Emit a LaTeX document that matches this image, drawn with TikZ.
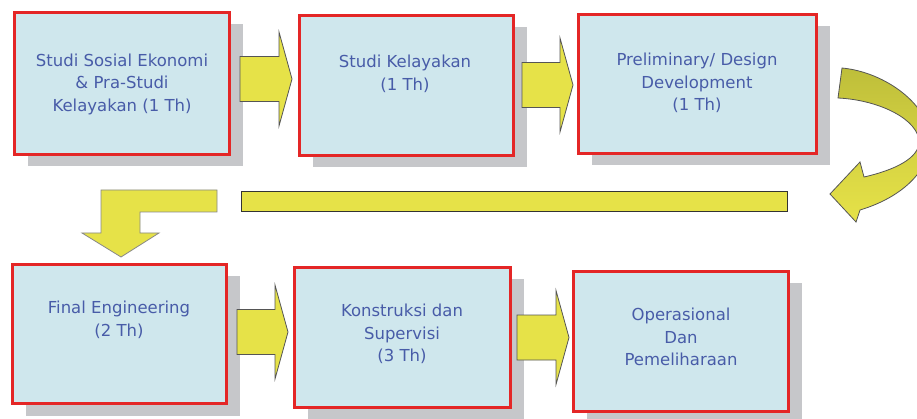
\documentclass[tikz,border=0pt]{standalone}
\usepackage{fontspec}
\setmainfont{DejaVu Sans}
\usetikzlibrary{shadows}
\definecolor{boxfill}{RGB}{207,231,237}
\definecolor{boxred}{RGB}{228,38,38}
\definecolor{shadowgray}{RGB}{198,199,202}
\definecolor{txtblue}{RGB}{72,92,168}
\definecolor{arrowyellow}{RGB}{230,226,72}
\definecolor{arrowolive}{RGB}{190,190,58}
\definecolor{arrowedge}{RGB}{85,85,85}
\tikzset{
  stagebox/.style={draw=boxred, line width=3pt, fill=boxfill, inner sep=0pt,
    drop shadow={shadow xshift=13pt, shadow yshift=-12pt, fill=shadowgray, opacity=1}},
  stagetext/.style={text=txtblue, align=center, inner sep=0pt,
    font=\fontsize{16.5}{22.5}\selectfont},
  blockarrow/.style={fill=arrowyellow, draw=arrowedge, line width=0.8pt, line join=miter},
}
\newcommand\blockarrowshape[4]{% name, shaft start x, center y, tip x
  \coordinate (#1) at (#2,#3);
  \path[blockarrow] (#1) ++(0,-22.5) -- ++({#4-#2-13},0) -- ++(0,-24.5)
    -- (#4,#3) -- ({#4-13},{#3+47}) -- ++(0,-24.5) -- ({#2},{#3+22.5}) -- cycle;
}
\begin{document}
\begin{tikzpicture}[x=1pt,y=-1pt]
\useasboundingbox (0,0) rectangle (917,419);
\clip (0,0) rectangle (917,419);
\fill[white] (0,0) rectangle (917,419);

% boxes
\node[stagebox, minimum width=215pt, minimum height=142pt] (b1) at (122,83.5) {};
\node[stagebox, minimum width=214pt, minimum height=140pt] (b2) at (406.5,85.5) {};
\node[stagebox, minimum width=238pt, minimum height=139pt] (b3) at (697.5,84) {};
\node[stagebox, minimum width=214pt, minimum height=139pt] (b4) at (119.5,334) {};
\node[stagebox, minimum width=216pt, minimum height=140pt] (b5) at (402.5,337.5) {};
\node[stagebox, minimum width=215pt, minimum height=140pt] (b6) at (681,341.5) {};

% texts
\node[stagetext] (t1) at (122,84) {Studi Sosial Ekonomi\\ \& Pra-Studi\\ Kelayakan (1 Th)};
\node[stagetext] (t2) at (405,74) {Studi Kelayakan\\ (1 Th)};
\node[stagetext] (t3) at (697,83) {Preliminary/ Design\\ Development\\ (1 Th)};
\node[stagetext] (t4) at (119,320) {Final Engineering\\ (2 Th)};
\node[stagetext] (t5) at (402,334) {Konstruksi dan\\ Supervisi\\ (3 Th)};
\node[stagetext] (t6) at (681,337) {Operasional\\ Dan\\ Pemeliharaan};

% straight block arrows
\blockarrowshape{a1}{240}{79}{292}
\blockarrowshape{a2}{522}{85}{573}
\blockarrowshape{a3}{237}{332}{288}
\blockarrowshape{a4}{517}{337.5}{569}

% long bar
\node[draw=black!80, line width=1.2pt, fill=arrowyellow, inner sep=0pt,
  minimum width=546pt, minimum height=20pt] (bar) at (514.5,201.5) {};

% bent arrow going down to Final Engineering
\coordinate (bent) at (217,190);
\path[fill=arrowyellow, draw=arrowedge!70, line width=0.8pt]
  (bent) -- (101,190) -- (101,233) -- (82,233) -- (121,257) -- (159,233)
  -- (140,233) -- (140,212) -- (217,212) -- cycle;

% curved arrow on the right
\coordinate (curv) at (842,68);
\path[draw=arrowedge, line width=0.8pt, top color=arrowolive, bottom color=arrowyellow,
  middle color=arrowolive!45!arrowyellow, shading angle=0]
  (curv) .. controls (885,72) and (930,105) .. (930,140)
  .. controls (930,172) and (900,198) .. (860,210)
  -- (856,222) -- (830,194) -- (860,162) -- (864,177)
  .. controls (895,170) and (919,158) .. (919,142)
  .. controls (919,120) and (880,100) .. (838,98) -- cycle;
\end{tikzpicture}
\end{document}
